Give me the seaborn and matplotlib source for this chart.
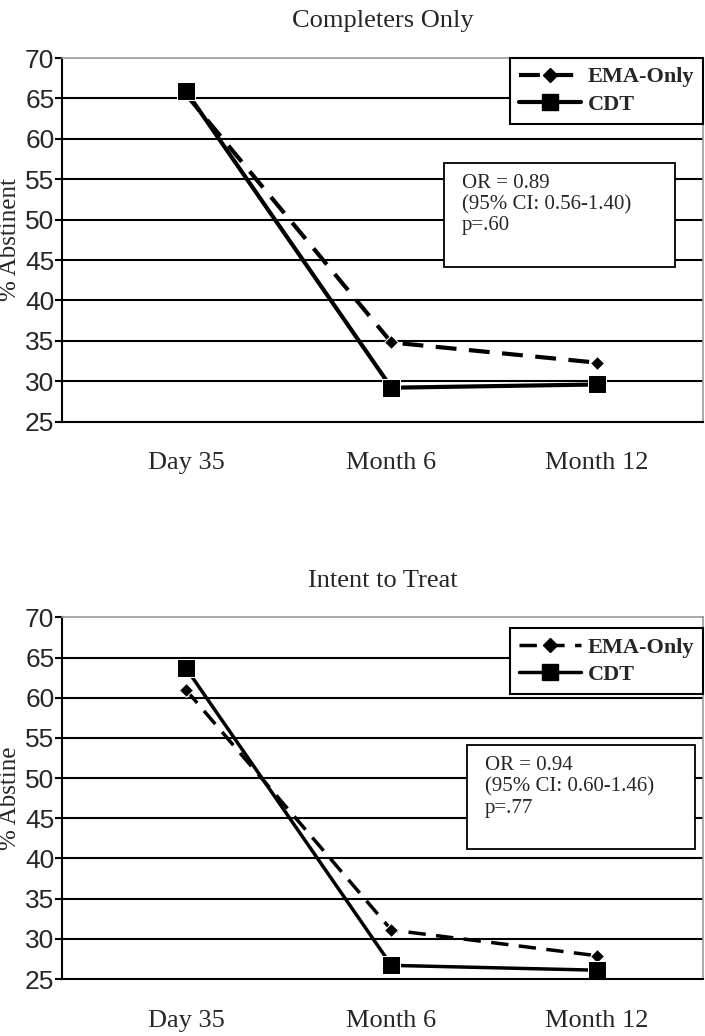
import numpy as np
import pandas as pd
import matplotlib
matplotlib.use('Agg')
import matplotlib.pyplot as plt
import seaborn as sns
from matplotlib.patches import Rectangle
from matplotlib.lines import Line2D

# data
timepoints = ['Day 35', 'Month 6', 'Month 12']
ema_completers = [65.5, 34.8, 32.3]
cdt_completers = [65.9, 29.2, 29.6]
ema_itt = [61.0, 31.1, 27.9]
cdt_itt = [63.7, 26.7, 26.1]
stats_completers = ['OR = 0.89', '(95% CI: 0.56-1.40)', 'p=.60']
stats_itt = ['OR = 0.94', '(95% CI: 0.60-1.46)', 'p=.77']

sns.set_style('white')
serif = ['Liberation Serif', 'DejaVu Serif']
sans = ['Liberation Sans', 'DejaVu Sans']


def panel(ax, ema, cdt, title, ylabel, stats, box, legend_y, lw):
    df = pd.DataFrame({'x': list(range(len(timepoints))) * 2,
                       'y': ema + cdt,
                       'group': ['EMA-Only'] * 3 + ['CDT'] * 3})
    sns.lineplot(data=df[df.group == 'EMA-Only'], x='x', y='y', ax=ax,
                 color='black', lw=lw, marker='D', markersize=7.5,
                 linestyle=(0, (5, 3)), legend=False)
    sns.lineplot(data=df[df.group == 'CDT'], x='x', y='y', ax=ax,
                 color='black', lw=lw, marker='s', markersize=13,
                 legend=False)

    ax.set_xlim(-0.603, 2.516)
    ax.set_ylim(25, 70)
    ax.set_yticks(np.arange(25, 71, 5))
    ax.set_yticklabels([str(v) for v in range(25, 71, 5)], family=sans, fontsize=19)
    ax.set_xticks(range(3))
    ax.set_xticklabels(timepoints, family=serif, fontsize=19)
    ax.set_xticks([0.5, 1.5, 2.516], minor=True)
    ax.tick_params(axis='x', which='major', length=0, pad=22)
    ax.tick_params(axis='x', which='minor', length=7, width=1.5, color='black', direction='out')
    ax.tick_params(axis='y', length=5, width=1.5, color='black', direction='out', left=True, pad=0.5)
    ax.set_xlabel('')
    ax.set_ylabel(ylabel, family=serif, fontsize=18)
    ax.yaxis.set_label_coords(-0.064, 0.5)
    ax.set_title(title, family=serif, fontsize=19, pad=22)

    for v in range(30, 70, 5):
        ax.axhline(v, color='black', lw=1.5, zorder=0)
    for s in ['left', 'bottom']:
        ax.spines[s].set_color('black')
        ax.spines[s].set_linewidth(1.5)
    for s in ['top', 'right']:
        ax.spines[s].set_color('#999999')
        ax.spines[s].set_linewidth(1.2)

    ax.add_patch(Rectangle((box[0], box[1]), box[2], box[3], transform=ax.transAxes,
                           facecolor='white', edgecolor='black', lw=1.3, zorder=5))
    ax.text(box[0] + 0.028, box[1] + box[3] - 0.03, '\n'.join(stats), transform=ax.transAxes,
            family=serif, fontsize=15, va='top', ha='left', linespacing=1.15, zorder=6)

    handles = [Line2D([], [], color='black', lw=lw, marker='D', markersize=7.5,
                      linestyle=(0, (5, 3))),
               Line2D([], [], color='black', lw=lw, marker='s', markersize=12)]
    leg = ax.legend(handles, ['EMA-Only', 'CDT'], loc='upper right',
                    bbox_to_anchor=(1.0, legend_y), borderaxespad=0, fancybox=False,
                    framealpha=1, handlelength=2.8, handletextpad=0.3,
                    labelspacing=0.3, borderpad=0.4,
                    prop={'family': serif, 'weight': 'bold', 'size': 16})
    leg.get_frame().set_edgecolor('black')
    leg.get_frame().set_linewidth(1.5)
    leg.set_zorder(7)


fig = plt.figure(figsize=(7.05, 10.36), dpi=100)
ax1 = fig.add_axes([0.088, 0.593, 0.909, 0.351])
ax2 = fig.add_axes([0.088, 0.055, 0.909, 0.349])

panel(ax1, ema_completers, cdt_completers, 'Completers Only', '% Abstinent',
      stats_completers, (0.596, 0.426, 0.360, 0.286), 1.0, 3.0)
panel(ax2, ema_itt, cdt_itt, 'Intent to Treat', '% Abstine',
      stats_itt, (0.632, 0.359, 0.356, 0.287), 0.97, 2.5)

fig.savefig('out.png', dpi=100)
